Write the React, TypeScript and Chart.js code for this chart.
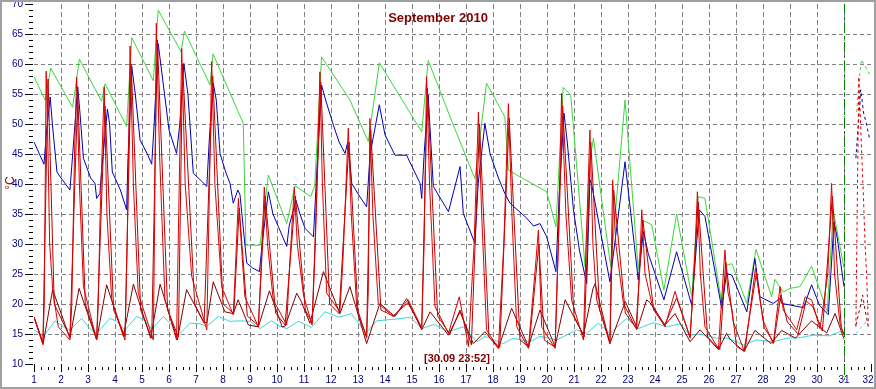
import React, { useEffect, useRef } from 'react';
import { Chart, registerables } from 'chart.js';

Chart.register(...registerables);

const TITLE = 'September 2010';
const STAMP = '[30.09 23:52]';
const Y_UNIT = '°C';
const X_TICKS = [1, 2, 3, 4, 5, 6, 7, 8, 9, 10, 11, 12, 13, 14, 15, 16, 17, 18, 19, 20, 21, 22, 23, 24, 25, 26, 27, 28, 29, 30, 31, 32];
const Y_TICKS = [10, 15, 20, 25, 30, 35, 40, 45, 50, 55, 60, 65, 70];
const NOW_DAY = 31;

type P = [number, number];

const GREEN: P[] = [
  [1.0, 57.9], [1.41, 54.0], [1.62, 59.3], [2.43, 52.8], [2.68, 60.8], [3.5, 53.8], [3.63, 56.7], [4.43, 49.6], [4.62, 64.4], [5.42, 57.2],
  [5.6, 69.0], [6.45, 62.0], [6.57, 65.5], [7.52, 56.5], [7.63, 61.7], [8.75, 50.1], [8.85, 29.8], [9.37, 29.8], [9.68, 41.5], [10.36, 33.4],
  [10.67, 39.7], [11.25, 37.9], [11.4, 39.8], [11.65, 61.2], [12.7, 54.0], [13.38, 47.1], [13.79, 60.2], [15.36, 48.7], [15.6, 60.6], [16.48, 50.4],
  [17.33, 40.9], [17.76, 56.8], [18.44, 51.2], [18.57, 42.3], [19.99, 38.7], [20.33, 32.9], [20.6, 56.1], [20.88, 54.8], [21.41, 26.2], [21.59, 44.0],
  [21.72, 47.6], [22.36, 26.2], [22.89, 54.0], [23.38, 25.7], [23.57, 33.9], [23.88, 33.2], [24.33, 22.3], [24.8, 35.0], [25.36, 21.2], [25.6, 37.9],
  [25.85, 37.6], [26.47, 20.1], [26.65, 26.5], [26.85, 26.7], [27.4, 20.1], [27.74, 29.1], [28.32, 21.2], [28.44, 24.1], [28.75, 22.0], [29.0, 22.6],
  [29.37, 22.9], [29.8, 26.3], [30.38, 18.7], [30.6, 35.6], [31.0, 26.0],
];

const BLUE: P[] = [
  [1.0, 47], [1.37, 43.3], [1.45, 48], [1.6, 54.5], [1.68, 50], [1.85, 42], [2.0, 41], [2.33, 39], [2.4, 43], [2.62, 56.2],
  [2.7, 52], [2.83, 44.3], [3.1, 41], [3.26, 40.1], [3.32, 37.6], [3.44, 38.4], [3.5, 42], [3.72, 52.5], [3.8, 50], [3.9, 42],
  [4.2, 39], [4.43, 35.7], [4.48, 44], [4.62, 59.6], [4.75, 55], [4.93, 47.3], [5.2, 45], [5.36, 43.3], [5.45, 50], [5.6, 63.4],
  [5.75, 58], [6.0, 49], [6.28, 45.1], [6.4, 50], [6.55, 60.1], [6.7, 55], [6.9, 41.8], [7.2, 40.5], [7.4, 39.6], [7.5, 48],
  [7.64, 56.8], [7.75, 54], [7.89, 45.1], [8.1, 42], [8.26, 40.1], [8.38, 36.8], [8.55, 39], [8.63, 38.2], [8.88, 26.8], [9.1, 26],
  [9.35, 25.4], [9.45, 30], [9.68, 38.7], [9.85, 35], [10.05, 32.9], [10.36, 29.6], [10.45, 33], [10.7, 37.3], [10.85, 35], [11.04, 32.6],
  [11.35, 31.2], [11.45, 40], [11.65, 56.5], [11.8, 54], [12.09, 49.8], [12.3, 47], [12.52, 45.1], [12.62, 47], [12.77, 40.1], [13.05, 38],
  [13.32, 36.2], [13.45, 45], [13.79, 53.2], [14.0, 48.2], [14.37, 44.8], [14.8, 44.8], [15.3, 40.1], [15.36, 37.6], [15.45, 45], [15.6, 54.8],
  [15.79, 39.6], [16.0, 38], [16.35, 35.4], [16.78, 42.9], [16.9, 35.1], [17.33, 30.1], [17.45, 40], [17.7, 50.1], [17.89, 45.1], [18.2, 41],
  [18.44, 38.4], [18.63, 36.8], [19.25, 34.3], [19.5, 33], [19.74, 33.4], [19.99, 31.2], [20.33, 25.4], [20.45, 38], [20.63, 51.8], [20.75, 47],
  [20.98, 35.7], [21.2, 29], [21.47, 23.4], [21.59, 40.7], [21.65, 40], [22.33, 23.7], [22.89, 43.7], [23.38, 24], [23.57, 32.1], [23.75, 28.4],
  [24.33, 20.7], [24.8, 28.7], [25.36, 19.8], [25.64, 35.7], [25.85, 34.6], [26.47, 19.3], [26.65, 25.1], [26.85, 24.8], [27.4, 18.7], [27.7, 27.6],
  [27.89, 21.2], [28.38, 20.1], [28.63, 20.9], [28.69, 20.1], [29.5, 19.4], [29.8, 23.2], [30.09, 19.8], [30.42, 18.2], [30.63, 33.7], [30.75, 31],
  [31.0, 22.9],
];

const RED: P[] = [
  [1.0, 17.8], [1.33, 13.2], [1.38, 20], [1.45, 58.8], [1.5, 50], [1.58, 30], [1.7, 22], [1.9, 16.2], [2.33, 14], [2.4, 20],
  [2.5, 45], [2.58, 57.8], [2.68, 40], [2.83, 22.9], [3.32, 14], [3.38, 20], [3.45, 35], [3.6, 56.2], [3.7, 35], [3.88, 20.7],
  [4.37, 14], [4.45, 30], [4.56, 63], [4.68, 40], [4.86, 21.8], [5.42, 14], [5.47, 35], [5.53, 66.8], [5.65, 45], [5.85, 20.7],
  [6.28, 14], [6.36, 35], [6.47, 62.6], [6.6, 40], [6.84, 24.6], [7.4, 15.7], [7.48, 35], [7.58, 60.4], [7.7, 40], [7.95, 22.9],
  [8.38, 18.2], [8.45, 25], [8.57, 37.6], [8.68, 30], [8.81, 21.2], [9.31, 16.2], [9.4, 25], [9.53, 39.5], [9.65, 30], [9.86, 20.7],
  [10.36, 16.5], [10.45, 25], [10.64, 39.5], [10.75, 30], [10.98, 21.5], [11.3, 16.5], [11.42, 30], [11.59, 58.7], [11.68, 40], [11.84, 21.8],
  [12.33, 18.7], [12.45, 28], [12.64, 49.3], [12.75, 35], [12.95, 19.6], [13.32, 14.3], [13.38, 22], [13.44, 50.9], [13.55, 35], [13.75, 20.1],
  [14.31, 17.9], [14.86, 20.7], [15.36, 16], [15.45, 30], [15.54, 57.9], [15.65, 40], [15.85, 19.6], [16.35, 15.1], [16.75, 21.2], [17.09, 12.9],
  [17.3, 30], [17.46, 52], [17.58, 35], [17.76, 15.7], [18.2, 12.6], [18.4, 30], [18.57, 53.4], [18.7, 35], [18.88, 16.2], [19.31, 12.6],
  [19.55, 25], [19.68, 32.3], [19.8, 16.2], [20.3, 12.6], [20.42, 30], [20.54, 55.1], [20.7, 35], [20.91, 20.7], [21.35, 14], [21.45, 30],
  [21.59, 49], [21.7, 30], [21.84, 20.7], [22.33, 13.4], [22.43, 40.7], [22.55, 30], [22.83, 20.1], [23.32, 15.7], [23.42, 25], [23.51, 35.7],
  [23.63, 25.1], [23.88, 20.1], [24.37, 16.2], [24.74, 22.1], [25.3, 14.3], [25.45, 25], [25.57, 38.7], [25.68, 25], [25.85, 16.2], [26.35, 12.6],
  [26.59, 29], [26.7, 22], [26.85, 19], [27.02, 12.9], [27.33, 12.1], [27.72, 26], [28.0, 17.3], [28.38, 13.4], [28.63, 22.9], [28.75, 19],
  [29.25, 15.7], [29.56, 21.2], [29.8, 20.7], [30.11, 15.9], [30.4, 25], [30.54, 40.1], [30.65, 25], [30.85, 16.8], [31.0, 14.8],
];

const RED_2: P[] = [
  [1.0, 17.8], [1.33, 13.5], [1.52, 57.5], [1.75, 20], [2.33, 14.5], [2.62, 55], [2.9, 20], [3.32, 14.2], [3.63, 53], [3.95, 19],
  [4.37, 14.6], [4.6, 60], [4.95, 19], [5.36, 14.3], [5.57, 64], [5.95, 19], [6.35, 14.5], [6.5, 60], [6.95, 20], [7.3, 16.8],
  [7.62, 58], [8.0, 20], [8.4, 18.4], [8.6, 36], [8.9, 18], [9.31, 16.4], [9.56, 38], [9.95, 18.5], [10.3, 16.5], [10.68, 38],
  [11.05, 19], [11.3, 16.8], [11.62, 57], [11.95, 20], [12.3, 18.4], [12.67, 47], [13.0, 18.5], [13.32, 14.5], [13.47, 49], [13.85, 19],
  [14.3, 18], [14.85, 20.2], [15.36, 16], [15.57, 56], [15.95, 18], [16.4, 15], [16.78, 19], [17.2, 13.2], [17.5, 50], [17.85, 14.5],
  [18.25, 12.8], [18.6, 51], [19.0, 14], [19.33, 12.8], [19.7, 30], [19.9, 14], [20.3, 12.8], [20.58, 53], [21.0, 18], [21.38, 14.5],
  [21.62, 47], [21.95, 19], [22.33, 13.6], [22.47, 39], [22.9, 18.5], [23.3, 16], [23.55, 34], [23.95, 19], [24.35, 16.4], [24.8, 21],
  [25.3, 14.5], [25.6, 37], [25.95, 14.5], [26.4, 12.4], [26.62, 27], [26.9, 17], [27.3, 12.2], [27.75, 25], [28.05, 16], [28.4, 13.6],
  [28.66, 21.5], [28.9, 17], [29.3, 15], [29.6, 20.5], [29.85, 19.5], [30.2, 15.5], [30.57, 38], [30.9, 16], [31.0, 15],
];

const MAROON: P[] = [
  [1.0, 17.9], [1.34, 13.4], [1.69, 22.4], [2.33, 14.3], [2.67, 22.6], [3.32, 14], [3.69, 23.2], [4.31, 14.6], [4.68, 23.3], [5.32, 14.3],
  [5.67, 23.3], [6.31, 14], [6.65, 22.4], [7.27, 17.1], [7.4, 16.8], [7.64, 23.7], [8.07, 18.7], [8.38, 18.4], [8.56, 20.7], [8.94, 16.5],
  [9.31, 16.2], [9.72, 22.2], [10.19, 16.2], [10.3, 16.3], [10.73, 21.8], [10.9, 20.4], [11.22, 16.8], [11.72, 25.4], [12.33, 18.4], [12.7, 22.9],
  [13.32, 13.4], [13.81, 20.1], [14.37, 17.9], [14.8, 20.9], [15.36, 15.7], [15.67, 18.7], [16.35, 14.8], [16.78, 18.7], [17.27, 13.4], [17.7, 15.4],
  [18.2, 12.6], [18.69, 19.3], [19.31, 12.9], [19.74, 19], [20.3, 12.9], [20.67, 20.7], [21.35, 14.8], [21.7, 22.5], [21.78, 23.4], [22.33, 13.4],
  [22.9, 20.4], [23.35, 15.9], [23.69, 20.7], [23.8, 20.3], [24.37, 16.5], [24.74, 18.4], [25.3, 13.7], [25.67, 15.7], [26.35, 12.4], [26.65, 15.1],
  [26.8, 14], [27.3, 12.1], [27.7, 15.6], [28.3, 13.4], [28.69, 15.6], [29.2, 14.3], [29.8, 17.2], [30.36, 15.2], [30.67, 18.4], [31.0, 14.2],
];

const CYAN: P[] = [
  [1.0, 15.7], [1.35, 14.6], [1.78, 17.2], [2.09, 16.2], [2.33, 15.7], [2.77, 17.6], [3.07, 15.9], [3.32, 15.1], [3.81, 17.6], [4.06, 17.1],
  [4.37, 15.7], [4.8, 17.9], [5.11, 17.3], [5.36, 15.8], [5.79, 17.9], [6.1, 16.5], [6.35, 14.8], [6.78, 16.8], [7.15, 16.7], [7.4, 16.3],
  [7.83, 17.9], [8.26, 17.1], [8.63, 17.2], [9.0, 17.1], [9.37, 15.9], [9.8, 17.2], [10.11, 16.3], [10.36, 15.9], [10.79, 17.1], [11.28, 16.1],
  [11.78, 18.7], [12.3, 17.8], [12.75, 18.4], [13.3, 15.2], [13.69, 17.2], [14.43, 17.5], [14.93, 17.8], [15.38, 15.9], [15.8, 16.6], [16.35, 15.4],
  [16.9, 16.2], [17.4, 13.7], [17.7, 14.6], [18.38, 13.4], [18.75, 14.3], [19.37, 13.7], [19.74, 14.6], [20.36, 14], [21.1, 15.7], [21.47, 15.1],
  [21.9, 16.8], [22.33, 15.1], [22.95, 17.6], [23.38, 15.9], [23.94, 16.9], [24.43, 16.2], [24.93, 16.7], [25.3, 14.8], [25.67, 15], [26.28, 14.3],
  [26.7, 14.3], [27.27, 13.2], [27.76, 14], [28.38, 13.7], [28.88, 14.3], [29.37, 14.4], [29.86, 14.8], [30.48, 14.7], [30.85, 15.4], [31.0, 15.2],
];

// dashed trailing segments after the "now" marker
const GREEN_PREV: P[] = [[31.47, 52], [31.55, 57], [31.65, 60.7], [31.96, 58.2]];
const BLUE_PREV: P[] = [[31.44, 44.3], [31.5, 48], [31.62, 55.7], [31.72, 52], [31.83, 50], [31.96, 47.3]];
const RED_PREV: P[] = [[31.44, 16.2], [31.5, 40], [31.55, 57.9], [31.65, 45.7], [31.72, 37.9], [31.78, 30], [31.84, 24.6], [31.9, 16.8]];
const MAROON_PREV: P[] = [[31.44, 16.5], [31.6, 19.5], [31.69, 21.5], [31.78, 19], [31.9, 16.2]];
const CYAN_PREV: P[] = [[31.44, 15.1], [31.65, 16.2], [31.84, 17.1], [31.9, 16.5]];

const C_GREEN = '#3ad83a';
const C_BLUE = '#0000b4';
const C_RED = '#e00000';
const C_RED2 = '#b80000';
const C_MAROON = '#800000';
const C_CYAN = '#3cd8d8';
const FONT = '"Liberation Sans", Arial, sans-serif';

const toXY = (pts: P[]) => pts.map(([x, y]) => ({ x, y }));

const ds = (data: P[], color: string, dashed = false) => ({
  data: toXY(data),
  borderColor: color,
  borderWidth: 1,
  pointRadius: 0,
  tension: 0,
  fill: false,
  borderDash: dashed ? [3, 3] : [],
});

const decor = {
  id: 'decor',
  beforeDraw(chart: any) {
    const { ctx, width, height } = chart;
    ctx.save();
    ctx.fillStyle = '#ffffff';
    ctx.fillRect(0, 0, width, height);
    ctx.restore();
  },
  beforeDatasetsDraw(chart: any) {
    const { ctx, chartArea: a, scales } = chart;
    const x = scales.x, y = scales.y;
    ctx.save();
    ctx.strokeStyle = '#808080';
    ctx.lineWidth = 1;
    ctx.setLineDash([4, 3]);
    for (const t of Y_TICKS) {
      if (t === Y_TICKS[0] || t === Y_TICKS[Y_TICKS.length - 1]) continue;
      const py = Math.round(y.getPixelForValue(t)) + 0.5;
      ctx.beginPath(); ctx.moveTo(a.left, py); ctx.lineTo(a.right, py); ctx.stroke();
    }
    ctx.setLineDash([5, 3]);
    for (const d of X_TICKS) {
      if (d === X_TICKS[0] || d === X_TICKS[X_TICKS.length - 1]) continue;
      const px = Math.round(x.getPixelForValue(d)) + 0.5;
      ctx.beginPath(); ctx.moveTo(px, a.top); ctx.lineTo(px, a.bottom); ctx.stroke();
    }
    ctx.restore();
  },
  afterDraw(chart: any) {
    const { ctx, chartArea: a, scales, width, height } = chart;
    const x = scales.x, y = scales.y;
    ctx.save();
    ctx.setLineDash([]);
    ctx.strokeStyle = '#000000';
    ctx.lineWidth = 1;
    // y ticks
    for (let v = Y_TICKS[0]; v <= Y_TICKS[Y_TICKS.length - 1]; v += 1) {
      const py = Math.round(y.getPixelForValue(v)) + 0.5;
      const major = v % 5 === 0;
      ctx.beginPath(); ctx.moveTo(a.left - (major ? 9 : 5), py); ctx.lineTo(a.left - 1, py); ctx.stroke();
    }
    // x ticks
    for (let d = X_TICKS[0]; d <= X_TICKS[X_TICKS.length - 1] + 1e-6; d += 0.25) {
      const px = Math.round(x.getPixelForValue(d)) + 0.5;
      const major = Math.abs(d - Math.round(d)) < 1e-6;
      ctx.beginPath();
      ctx.moveTo(px, a.bottom + (major ? 0 : 3));
      ctx.lineTo(px, a.bottom + (major ? 8 : 6));
      ctx.stroke();
    }
    ctx.fillStyle = '#000080';
    ctx.font = `10px ${FONT}`;
    ctx.textAlign = 'right';
    ctx.textBaseline = 'middle';
    for (const t of Y_TICKS) ctx.fillText(String(t), a.left - 11, y.getPixelForValue(t));
    ctx.textAlign = 'center';
    for (const d of X_TICKS) {
      let px = x.getPixelForValue(d);
      if (d === X_TICKS[X_TICKS.length - 1]) px -= 3;
      ctx.fillText(String(d), px, a.bottom + 16);
    }
    // now marker
    const nx = Math.round(x.getPixelForValue(NOW_DAY)) + 0.5;
    ctx.strokeStyle = '#008000';
    ctx.setLineDash([10, 3, 3, 3]);
    ctx.beginPath(); ctx.moveTo(nx, a.top); ctx.lineTo(nx, a.bottom + 16); ctx.stroke();
    ctx.setLineDash([]);
    // texts
    ctx.fillStyle = '#800000';
    ctx.font = `bold 13px ${FONT}`;
    ctx.textAlign = 'center';
    ctx.fillText(TITLE, 438, 18);
    ctx.font = `bold 11px ${FONT}`;
    ctx.fillText(STAMP, 457, 359);
    ctx.save();
    ctx.translate(11, 183);
    ctx.rotate(-Math.PI / 2);
    ctx.font = `12px ${FONT}`;
    ctx.fillText(Y_UNIT, 0, 0);
    ctx.restore();
    // frame
    ctx.strokeStyle = '#a0a0a0';
    ctx.lineWidth = 2;
    ctx.strokeRect(1, 1, width - 2, height - 2);
    ctx.restore();
  },
};

export default function App() {
  const ref = useRef<HTMLCanvasElement>(null);
  useEffect(() => {
    document.body.style.margin = '0';
    const chart = new Chart(ref.current as HTMLCanvasElement, {
      type: 'line',
      data: {
        datasets: [
          ds(RED, C_RED),
          ds(RED_2, C_RED2),
          ds(MAROON, C_MAROON),
          ds(CYAN, C_CYAN),
          ds(BLUE, C_BLUE),
          ds(GREEN, C_GREEN),
          ds(RED_PREV, C_RED, true),
          ds(MAROON_PREV, C_MAROON, true),
          ds(CYAN_PREV, C_CYAN, true),
          ds(BLUE_PREV, C_BLUE, true),
          ds(GREEN_PREV, C_GREEN, true),
        ] as any,
      },
      options: {
        animation: false,
        responsive: false,
        devicePixelRatio: 1,
        layout: { padding: { left: 34, right: 5, top: 4, bottom: 25 } },
        plugins: { legend: { display: false }, tooltip: { enabled: false }, title: { display: false } },
        events: [],
        scales: {
          x: { type: 'linear', min: X_TICKS[0], max: X_TICKS[X_TICKS.length - 1], display: false },
          y: { type: 'linear', min: Y_TICKS[0], max: Y_TICKS[Y_TICKS.length - 1], display: false },
        },
      },
      plugins: [decor],
    });
    return () => chart.destroy();
  }, []);
  return (
    <div style={{ position: 'absolute', left: 0, top: 0, width: 876, height: 389 }}>
      <canvas ref={ref} width={876} height={389} style={{ display: 'block' }} />
    </div>
  );
}
